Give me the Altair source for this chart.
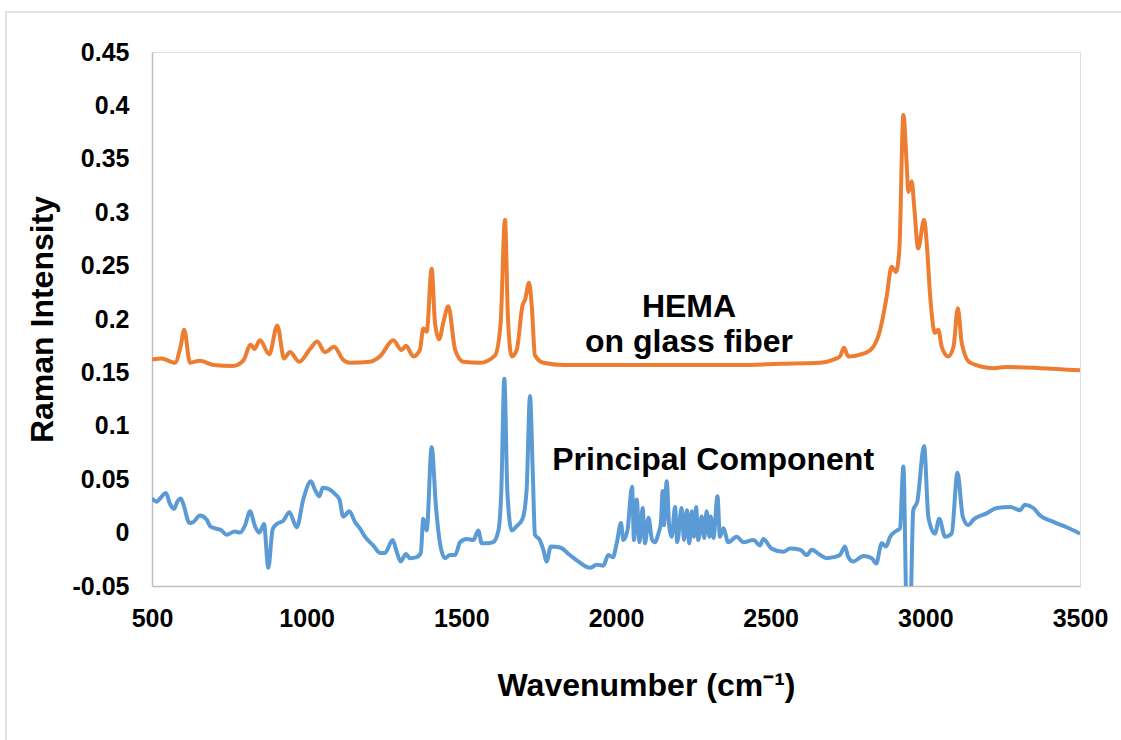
import altair as alt
import pandas as pd

# ---- data ----
orange_x = [500, 531, 574, 593, 604, 623, 655, 698, 762, 795,
            819, 831, 849, 879, 905, 927, 946, 976, 1011, 1034,
            1059, 1089, 1117, 1140, 1205, 1237, 1280, 1307, 1321, 1345,
            1366, 1377, 1388, 1404, 1415, 1428, 1442, 1458, 1480, 1506,
            1560, 1609, 1627, 1641, 1651, 1663, 1679, 1698, 1706, 1719,
            1728, 1738, 1765, 1830, 1884, 2000, 2200, 2400, 2530, 2660,
            2703, 2724, 2737, 2751, 2805, 2832, 2854, 2875, 2891, 2905,
            2916, 2929, 2940, 2945, 2956, 2964, 2977, 2996, 3006, 3015,
            3031, 3042, 3053, 3074, 3091, 3105, 3118, 3145, 3220, 3263,
            3371, 3500]
orange_y = [0.162, 0.163, 0.159, 0.175, 0.190, 0.159, 0.161, 0.157, 0.156, 0.161,
            0.176, 0.172, 0.180, 0.167, 0.194, 0.163, 0.169, 0.160, 0.172, 0.179,
            0.169, 0.174, 0.162, 0.159, 0.160, 0.165, 0.180, 0.171, 0.175, 0.165,
            0.171, 0.191, 0.188, 0.247, 0.196, 0.181, 0.197, 0.212, 0.171, 0.160,
            0.159, 0.166, 0.196, 0.293, 0.199, 0.165, 0.171, 0.213, 0.218, 0.234,
            0.211, 0.166, 0.159, 0.157, 0.157, 0.157, 0.157, 0.157, 0.158, 0.159,
            0.162, 0.165, 0.173, 0.165, 0.168, 0.174, 0.190, 0.221, 0.249, 0.244,
            0.265, 0.391, 0.343, 0.319, 0.329, 0.305, 0.266, 0.293, 0.265, 0.224,
            0.187, 0.190, 0.174, 0.165, 0.174, 0.210, 0.177, 0.159, 0.154, 0.155,
            0.154, 0.152]

blue_x = [500, 515, 526, 545, 558, 571, 582, 593, 601, 621,
          634, 655, 677, 688, 704, 725, 741, 768, 785, 801,
          817, 833, 847, 862, 876, 890, 903, 924, 944, 968,
          989, 1014, 1027, 1041, 1052, 1070, 1092, 1106, 1118, 1138,
          1156, 1172, 1189, 1215, 1237, 1253, 1278, 1291, 1304, 1321,
          1334, 1356, 1369, 1377, 1388, 1404, 1418, 1431, 1447, 1463,
          1480, 1496, 1517, 1539, 1555, 1566, 1582, 1603, 1620, 1629,
          1639, 1649, 1663, 1679, 1698, 1711, 1722, 1731, 1738, 1754,
          1765, 1776, 1789, 1819, 1851, 1878, 1916, 1938, 1959, 1975,
          1990, 2003, 2016, 2024, 2037, 2052, 2058, 2067, 2076, 2086,
          2094, 2105, 2116, 2126, 2137, 2145, 2151, 2155, 2164, 2172,
          2180, 2191, 2198, 2212, 2220, 2229, 2237, 2245, 2252, 2259,
          2266, 2277, 2285, 2293, 2302, 2306, 2315, 2328, 2336, 2347,
          2363, 2390, 2412, 2444, 2466, 2476, 2503, 2541, 2563, 2595,
          2617, 2633, 2660, 2681, 2703, 2724, 2740, 2751, 2767, 2800,
          2827, 2841, 2859, 2873, 2886, 2908, 2918, 2929, 2940, 2951,
          2961, 2974, 2996, 3010, 3031, 3045, 3064, 3085, 3104, 3121,
          3139, 3155, 3198, 3231, 3274, 3306, 3322, 3349, 3371, 3414,
          3457, 3500]
blue_y = [0.032, 0.029, 0.032, 0.037, 0.027, 0.022, 0.029, 0.032, 0.027, 0.009,
          0.010, 0.016, 0.012, 0.006, 0.004, 0.002, -0.002, 0.001, 0.000, 0.007,
          0.020, 0.006, 0.000, 0.008, -0.033, 0.003, 0.008, 0.011, 0.019, 0.005,
          0.031, 0.048, 0.040, 0.034, 0.042, 0.041, 0.036, 0.031, 0.015, 0.020,
          0.010, 0.004, -0.004, -0.012, -0.019, -0.019, -0.007, -0.018, -0.027, -0.020,
          -0.024, -0.023, -0.019, 0.013, 0.002, 0.080, 0.024, -0.010, -0.024, -0.021,
          -0.021, -0.009, -0.006, -0.007, 0.002, -0.010, -0.010, -0.009, 0.002, 0.037,
          0.144, 0.037, 0.002, 0.006, 0.013, 0.040, 0.128, 0.056, -0.002, -0.007,
          -0.016, -0.027, -0.013, -0.014, -0.021, -0.027, -0.033, -0.030, -0.031, -0.021,
          -0.023, -0.009, 0.009, -0.007, 0.002, 0.043, -0.007, 0.031, -0.009, 0.023,
          -0.010, 0.014, -0.006, -0.009, -0.001, 0.009, 0.039, 0.007, 0.048, 0.006,
          -0.004, 0.024, -0.009, 0.023, -0.007, 0.021, -0.010, 0.020, -0.004, 0.024,
          -0.007, 0.015, -0.005, 0.020, -0.004, 0.015, -0.005, 0.034, -0.004, 0.004,
          -0.009, -0.004, -0.009, -0.007, -0.012, -0.006, -0.015, -0.018, -0.015, -0.016,
          -0.021, -0.016, -0.021, -0.024, -0.023, -0.021, -0.013, -0.023, -0.027, -0.022,
          -0.024, -0.029, -0.010, -0.013, -0.004, 0.002, 0.004, 0.062, -0.075, -0.075,
          0.021, 0.029, 0.081, 0.014, -0.001, 0.013, -0.004, -0.001, 0.056, 0.015,
          0.007, 0.012, 0.018, 0.023, 0.024, 0.021, 0.026, 0.023, 0.016, 0.010,
          0.005, -0.001]

series_names = ["HEMA on glass fiber", "Principal Component"]
series_colors = ["#ED7D31", "#5B9BD5"]

x_ticks = [500, 1000, 1500, 2000, 2500, 3000, 3500]
y_ticks = [-0.05, 0, 0.05, 0.1, 0.15, 0.2, 0.25, 0.3, 0.35, 0.4, 0.45]

annot_text = ["HEMA", "on glass fiber", "Principal Component"]
annot_x = [2236, 2236, 2314]
annot_y = [0.202, 0.169, 0.0586]

# ---- tables ----
df = pd.concat([
    pd.DataFrame({"x": orange_x, "y": orange_y, "series": series_names[0], "order": range(len(orange_x))}),
    pd.DataFrame({"x": blue_x, "y": blue_y, "series": series_names[1], "order": range(len(blue_x))}),
])
ann = pd.DataFrame({"label": annot_text, "x": annot_x, "y": annot_y})

FONT = "Liberation Sans"

xscale = alt.Scale(domain=[500, 3500], nice=False, zero=False)
yscale = alt.Scale(domain=[-0.05, 0.45], nice=False, zero=False)

xaxis = alt.Axis(
    values=x_ticks, format="d", grid=False, ticks=False, tickSize=0,
    labelFont=FONT, labelFontSize=25, labelFontWeight="bold", labelColor="black",
    labelPadding=20, labelFlush=False, labelOverlap=False,
    domainColor="#BFBFBF", domainWidth=1.5,
    title="Wavenumber (cm⁻¹)", titleFont=FONT, titleFontSize=32, titleFontWeight="bold",
    titleColor="black", titleX=494, titleY=109, titleAlign="center", titleBaseline="alphabetic",
)
yaxis = alt.Axis(
    values=y_ticks, grid=False, ticks=False, tickSize=0,
    labelExpr="datum.value < 0 ? '-' + format(-datum.value, '~g') : format(datum.value, '~g')",
    labelFont=FONT, labelFontSize=25, labelFontWeight="bold", labelColor="black",
    labelPadding=23, labelFlush=False, labelOverlap=False,
    domainColor="#BFBFBF", domainWidth=1.5,
    title="Raman Intensity", titleFont=FONT, titleFontSize=32, titleFontWeight="bold",
    titleColor="black", titleAngle=270, titleX=-110, titleY=267,
    titleAlign="center", titleBaseline="middle",
)

lines = alt.Chart(df).mark_line(clip=True, strokeWidth=4, interpolate="monotone").encode(
    x=alt.X("x:Q", scale=xscale, axis=xaxis),
    y=alt.Y("y:Q", scale=yscale, axis=yaxis),
    color=alt.Color("series:N", scale=alt.Scale(domain=series_names, range=series_colors), legend=None),
    order="order:Q",
)

labels = alt.Chart(ann).mark_text(
    font=FONT, fontSize=32, fontWeight="bold", color="black", align="center", baseline="alphabetic"
).encode(
    x=alt.X("x:Q", scale=xscale),
    y=alt.Y("y:Q", scale=yscale),
    text="label:N",
)

frame = alt.Chart(alt.Data(values=[{}])).mark_rect(
    fillOpacity=0, stroke="#D9D9D9", strokeWidth=1.5, clip=False
).encode(
    x=alt.value(-146), x2=alt.value(1000), y=alt.value(-40), y2=alt.value(720)
)

chart = alt.layer(frame, lines, labels).properties(
    width=928, height=534,
    autosize=alt.AutoSizeParams(type="none"),
    padding={"left": 152, "top": 52, "right": 41, "bottom": 154},
).configure_view(stroke=None).configure(background="white")

chart.save("out.html", embed_options={"renderer": "svg", "actions": False})
